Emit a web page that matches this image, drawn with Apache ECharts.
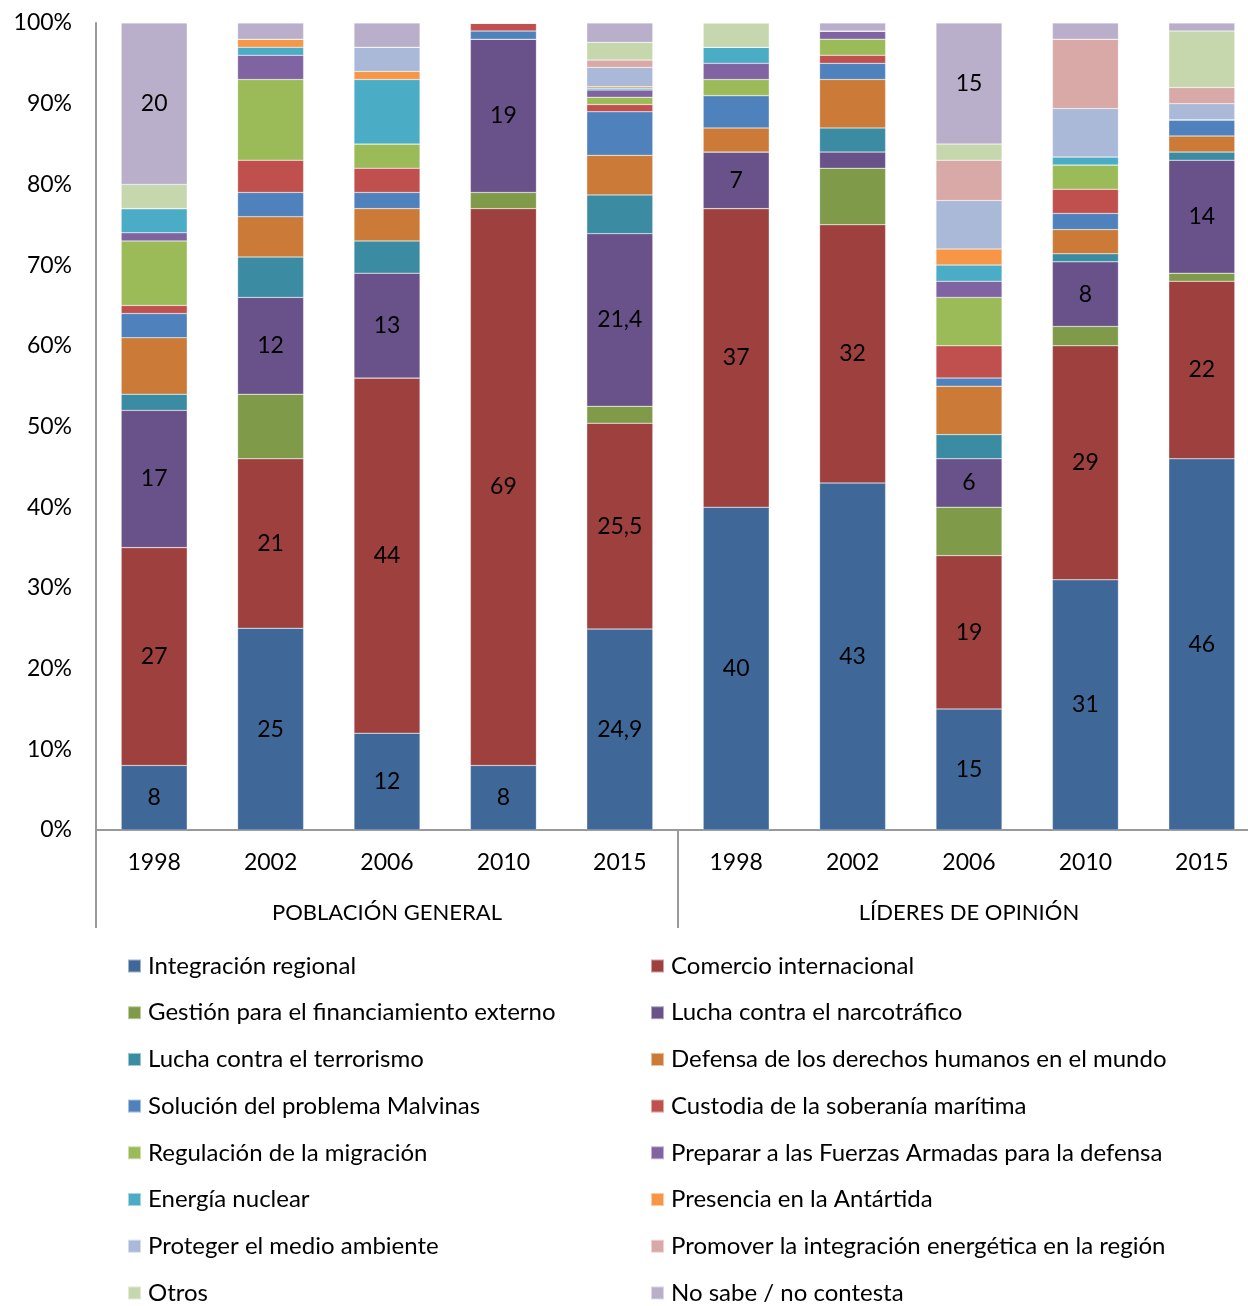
<!DOCTYPE html>
<html lang="es">
<head>
    <meta charset="UTF-8">
    <title>Prioridades de política exterior</title>
    <script src="https://cdn.jsdelivr.net/npm/echarts/dist/echarts.min.js"></script>
    <style>
        html, body { margin: 0; padding: 0; background: #fff; }
        #chart { width: 1248px; height: 1306px; }
    </style>
</head>
<body>
    <div id="chart"></div>

    <script type="text/javascript">
        // categorias (eje X)
        var years = ['1998', '2002', '2006', '2010', '2015', '1998', '2002', '2006', '2010', '2015'];
        var groups = ['POBLACIÓN GENERAL', 'LÍDERES DE OPINIÓN'];
        var yTicks = [0, 10, 20, 30, 40, 50, 60, 70, 80, 90, 100];

        // valores por serie (%)
        var integracion  = [8, 25, 12, 8, 24.9, 40, 43, 15, 31, 46];
        var comercio     = [27, 21, 44, 69, 25.5, 37, 32, 19, 29, 22];
        var gestion      = [0, 8, 0, 2, 2.1, 0, 7, 6, 2.4, 1];
        var narco        = [17, 12, 13, 19, 21.4, 7, 2, 6, 8, 14];
        var terrorismo   = [2, 5, 4, 0, 4.8, 0, 3, 3, 1, 1];
        var ddhh         = [7, 5, 4, 0, 4.9, 3, 6, 6, 3, 2];
        var malvinas     = [3, 3, 2, 1, 5.4, 4, 2, 1, 2, 2];
        var custodia     = [1, 4, 3, 1, 0.9, 0, 1, 4, 3, 0];
        var migracion    = [8, 10, 3, 0, 0.9, 2, 2, 6, 3, 0];
        var ffaa         = [1, 3, 0, 0, 0.9, 2, 1, 2, 0, 0];
        var nuclear      = [3, 1, 8, 0, 0.2, 2, 0, 2, 1, 0];
        var antartida    = [0, 1, 1, 0, 0.2, 0, 0, 2, 0, 0];
        var ambiente     = [0, 0, 3, 0, 2.4, 0, 0, 6, 6, 2];
        var energetica   = [0, 0, 0, 0, 0.9, 0, 0, 5, 8.6, 2];
        var otros        = [3, 0, 0, 0, 2.2, 3, 0, 2, 0, 7];
        var noSabe       = [20, 2, 3, 0, 2.4, 0, 1, 15, 2, 1];

        var seriesDefs = [
            { name: 'Integración regional', data: integracion, color: '#3F6899', label: true },
            { name: 'Comercio internacional', data: comercio, color: '#9D403E', label: true },
            { name: 'Gestión para el financiamiento externo', data: gestion, color: '#7F9A48' },
            { name: 'Lucha contra el narcotráfico', data: narco, color: '#69518A', label: true },
            { name: 'Lucha contra el terrorismo', data: terrorismo, color: '#3B8BA2' },
            { name: 'Defensa de los derechos humanos en el mundo', data: ddhh, color: '#CB7B37' },
            { name: 'Solución del problema Malvinas', data: malvinas, color: '#4F81BD' },
            { name: 'Custodia de la soberanía marítima', data: custodia, color: '#C0504D' },
            { name: 'Regulación de la migración', data: migracion, color: '#9BBB59' },
            { name: 'Preparar a las Fuerzas Armadas para la defensa', data: ffaa, color: '#8064A2' },
            { name: 'Energía nuclear', data: nuclear, color: '#4BACC6' },
            { name: 'Presencia en la Antártida', data: antartida, color: '#F79646' },
            { name: 'Proteger el medio ambiente', data: ambiente, color: '#AAB9D7' },
            { name: 'Promover la integración energética en la región', data: energetica, color: '#D9A9A8' },
            { name: 'Otros', data: otros, color: '#C6D7AD' },
            { name: 'No sabe / no contesta', data: noSabe, color: '#B9AFCA', label: true }
        ];

        var font = 'Lato, "Noto Sans", sans-serif';
        var chart = echarts.init(document.getElementById('chart'));

        var series = seriesDefs.map(function (s) {
            return {
                name: s.name,
                type: 'bar',
                stack: 'total',
                barWidth: 66,
                xAxisIndex: 0,
                data: s.data,
                itemStyle: { color: s.color, borderColor: 'rgba(255,255,255,0.5)', borderWidth: 0.5 },
                label: {
                    show: !!s.label,
                    position: 'inside',
                    color: '#000',
                    fontFamily: font,
                    fontSize: 23,
                    formatter: function (p) {
                        return p.value >= 5 ? String(p.value).replace('.', ',') : '';
                    }
                },
                emphasis: { disabled: true }
            };
        });

        var legendLeft = [], legendRight = [];
        seriesDefs.forEach(function (s, i) {
            (i % 2 === 0 ? legendLeft : legendRight).push(s.name);
        });

        var legendBase = {
            orient: 'vertical',
            top: 954,
            height: 380,
            padding: 0,
            itemWidth: 13,
            itemHeight: 13,
            itemGap: 22.7,
            icon: 'rect',
            selectedMode: false,
            textStyle: { fontFamily: font, fontSize: 24, color: '#000', lineHeight: 24, padding: [0, 0, 0, 2] }
        };

        var option = {
            animation: false,
            grid: { left: 96, right: -12, top: 23, bottom: 476, outerBoundsMode: 'none' },
            legend: [
                Object.assign({}, legendBase, { left: 127, data: legendLeft }),
                Object.assign({}, legendBase, { left: 650, data: legendRight })
            ],
            xAxis: [
                {
                    type: 'category',
                    data: years,
                    axisLine: { lineStyle: { color: '#999', width: 2 } },
                    axisTick: { show: false },
                    axisLabel: { color: '#000', fontFamily: font, fontSize: 23, margin: 21 }
                },
                {
                    type: 'category',
                    data: groups,
                    position: 'bottom',
                    axisLine: { show: false },
                    axisTick: { show: true, length: 98, lineStyle: { color: '#999', width: 2 } },
                    axisLabel: { color: '#000', fontFamily: font, fontSize: 22, margin: 72 }
                }
            ],
            yAxis: {
                type: 'value',
                min: yTicks[0],
                max: yTicks[yTicks.length - 1],
                interval: 10,
                axisLine: { show: true, lineStyle: { color: '#999', width: 2 } },
                axisTick: { show: false },
                splitLine: { show: false },
                axisLabel: { color: '#000', fontFamily: font, fontSize: 23, margin: 24, formatter: '{value}%' }
            },
            series: series
        };

        chart.setOption(option);
    </script>
</body>
</html>
